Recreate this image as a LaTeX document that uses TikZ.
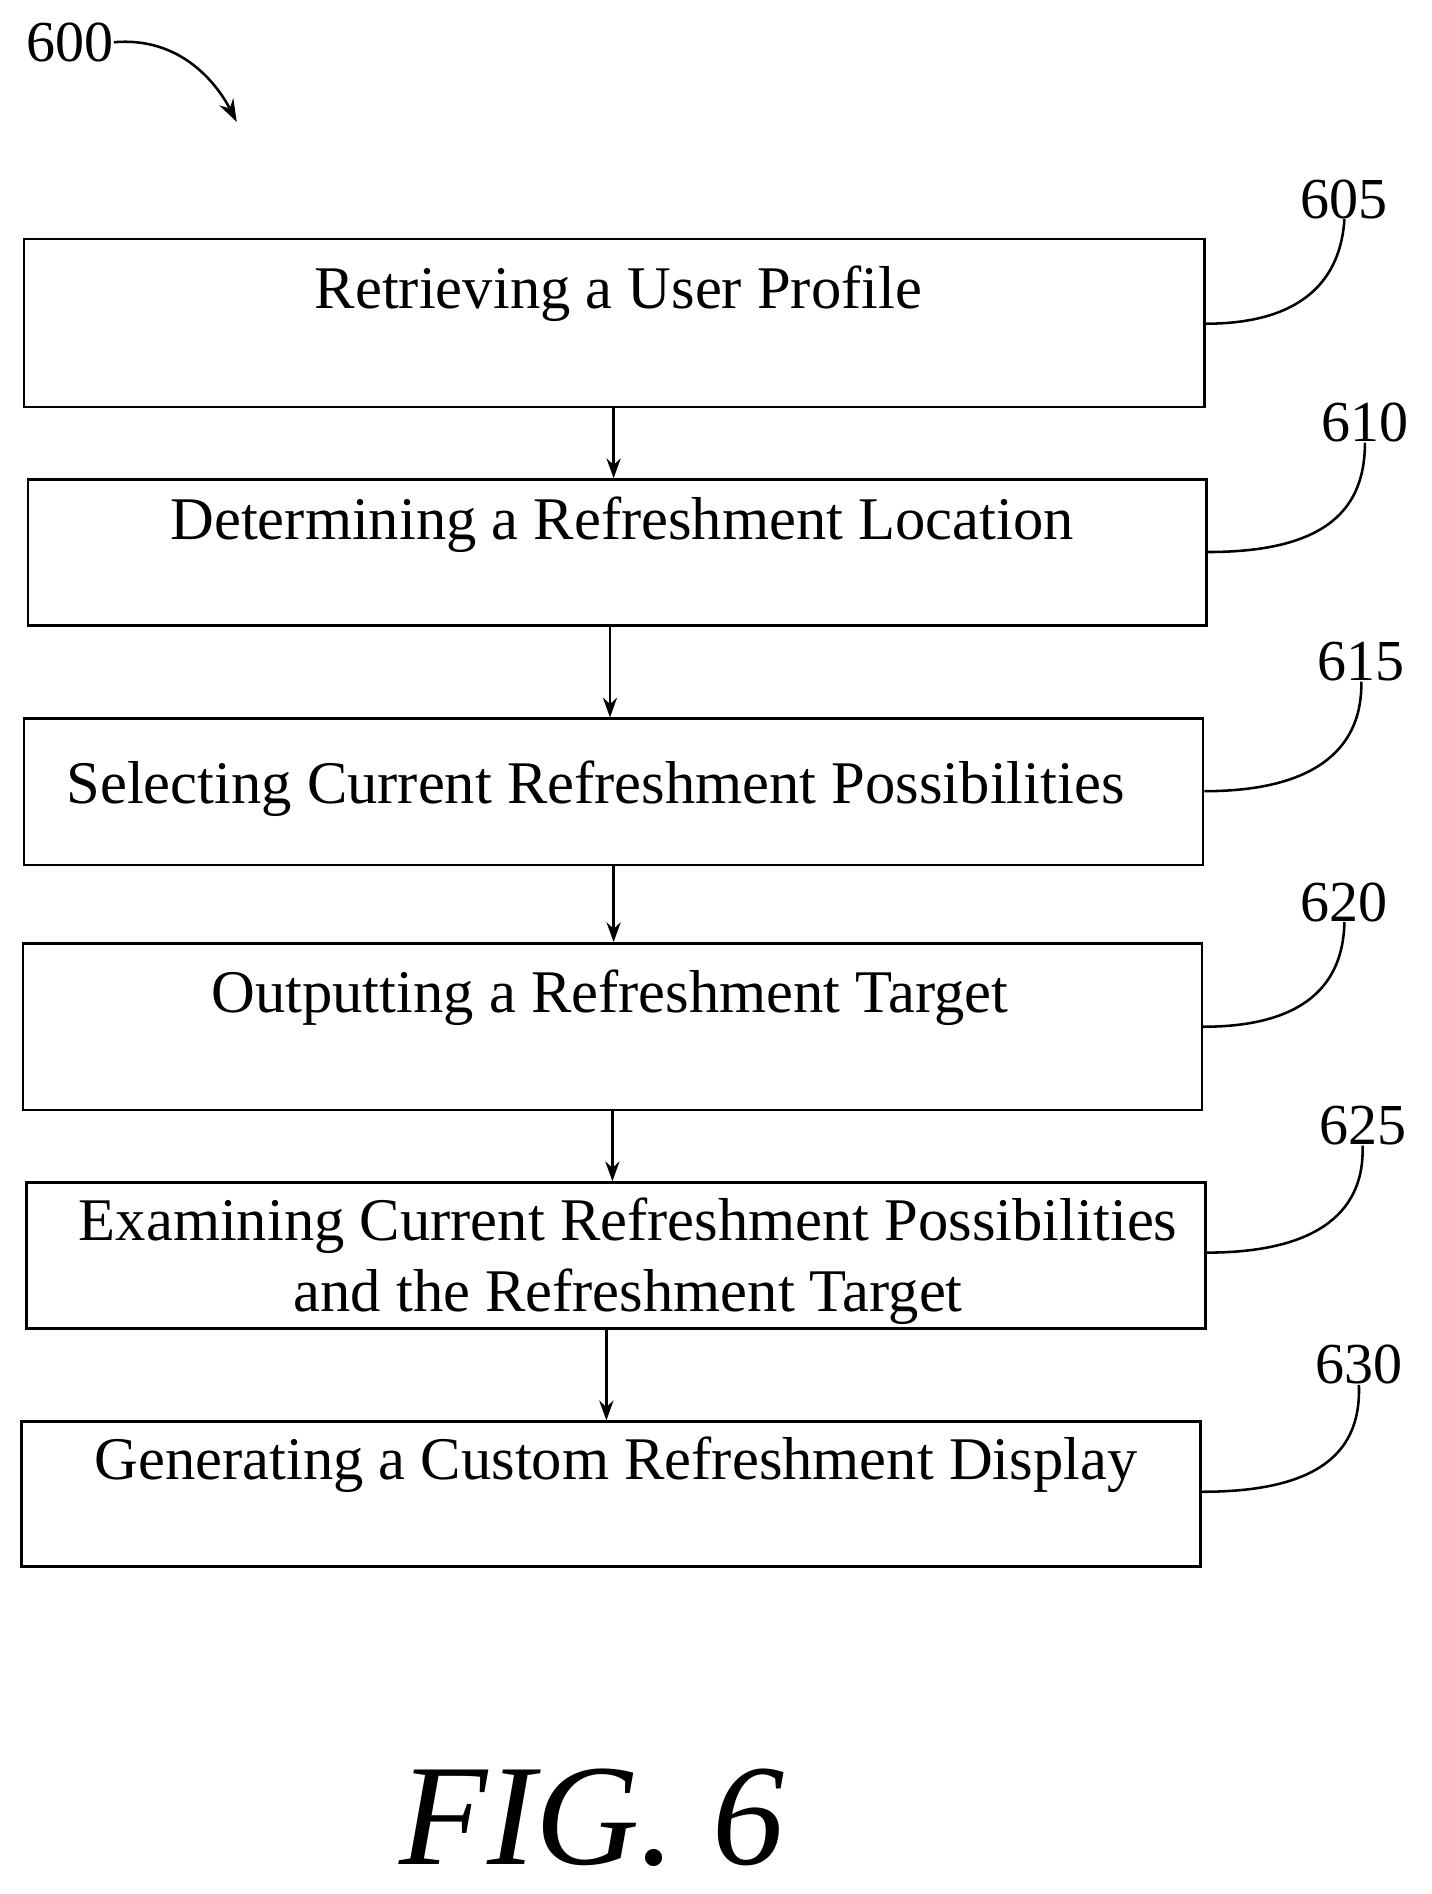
\documentclass[tikz,border=0pt]{standalone}
\usepackage{fontspec}
\setmainfont{Liberation Serif}
\usetikzlibrary{arrows.meta}
\begin{document}
\begin{tikzpicture}[x=0.03cm,y=-0.03cm,
  procbox/.style={draw,line width=1.8pt,rectangle,inner sep=0pt},
  txt/.style={font=\fontsize{42.8}{50}\selectfont,inner sep=0pt,align=center},
  num/.style={font=\fontsize{41}{46}\selectfont,inner sep=0pt},
  flow/.style={line width=1.8pt,-{Stealth[length=14pt,width=10pt]}},
  lead/.style={line width=1.8pt}]
\useasboundingbox (0,0) rectangle (1185,1568);
% boxes
\node[procbox,minimum width=977*0.03cm,minimum height=139*0.03cm] (b1) at (508.5,267.5) {};
\node[procbox,minimum width=976*0.03cm,minimum height=121*0.03cm] (b2) at (511,457.5) {};
\node[procbox,minimum width=976*0.03cm,minimum height=121*0.03cm] (b3) at (508,655.5) {};
\node[procbox,minimum width=976*0.03cm,minimum height=138*0.03cm] (b4) at (507,850) {};
\node[procbox,minimum width=976*0.03cm,minimum height=121*0.03cm] (b5) at (510,1039.5) {};
\node[procbox,minimum width=976*0.03cm,minimum height=120*0.03cm] (b6) at (506,1237) {};
% texts
\node[txt] (t1) at (512,243) {Retrieving a User Profile};
\node[txt] (t2) at (515,434) {Determining a Refreshment Location};
\node[txt] (t3) at (493,653) {Selecting Current Refreshment Possibilities};
\node[txt] (t4) at (505,826) {Outputting a Refreshment Target};
\node[txt] (t5) at (520,1044) {Examining Current Refreshment Possibilities\\and the Refreshment Target};
\node[txt] (t6) at (510,1213) {Generating a Custom Refreshment Display};
% arrows
\draw[flow] (b1.south -| 508,0) -- (b2.north -| 508,0);
\draw[flow] (b2.south -| 505,0) -- (b3.north -| 505,0);
\draw[flow] (b3.south -| 508,0) -- (b4.north -| 508,0);
\draw[flow] (b4.south -| 507,0) -- (b5.north -| 507,0);
\draw[flow] (b5.south -| 502,0) -- (b6.north -| 502,0);
% reference numerals
\node[num] (n605) at (1113,165) {605};
\node[num] (n610) at (1130,350) {610};
\node[num] (n615) at (1127,548) {615};
\node[num] (n620) at (1113,747) {620};
\node[num] (n625) at (1128,932) {625};
\node[num] (n630) at (1125,1130) {630};
\draw[lead] (b1.east |- 0,268) .. controls (1080,268) and (1110,230) .. (n605.south);
\draw[lead] (b2.east |- 0,457) .. controls (1100,457) and (1130,420) .. (n610.south);
\draw[lead] (b3.east |- 0,655) .. controls (1095,655) and (1128,615) .. (n615.south);
\draw[lead] (b4.east |- 0,850) .. controls (1080,850) and (1112,815) .. (n620.south);
\draw[lead] (b5.east |- 0,1037) .. controls (1095,1037) and (1130,1000) .. (n625.south);
\draw[lead] (b6.east |- 0,1235) .. controls (1095,1235) and (1127,1200) .. (n630.south);
% figure number
\node[num] (n600) at (58,35) {600};
\coordinate (tip) at (196,101);
\draw[lead,-{Stealth[length=16pt,width=11pt]}] (n600.east) .. controls (150,30) and (180,70) .. (tip);
\node[font=\fontsize{102}{110}\selectfont\itshape,inner sep=0pt] (fig) at (490,1505) {FIG.~6};
\end{tikzpicture}
\end{document}
